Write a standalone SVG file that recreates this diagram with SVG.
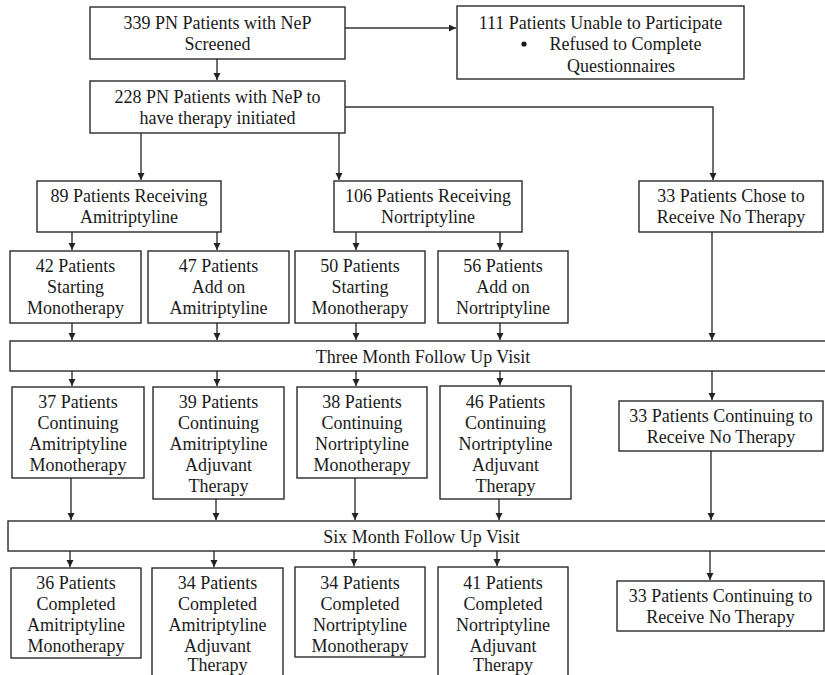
<svg xmlns="http://www.w3.org/2000/svg" width="825" height="675" viewBox="0 0 825 675">
<defs>
<style>
.b{fill:#fff;stroke:#2a2a2a;stroke-width:1.4}
.t{font-family:'Liberation Serif','Times New Roman','DejaVu Serif',serif;font-size:18px;fill:#1a1a1a;text-anchor:middle}
.c{fill:none;stroke:#333;stroke-width:1.4}
</style>
<marker id="ah" markerUnits="userSpaceOnUse" markerWidth="8" markerHeight="8" refX="7" refY="3.5" orient="auto">
<path d="M0,0 L7,3.5 L0,7 z" fill="#222"/>
</marker>
</defs>
<rect width="825" height="675" fill="#fff"/>

<g id="connectors">
<path class="c" d="M345,28 H456" marker-end="url(#ah)"/>
<path class="c" d="M217,59 V80" marker-end="url(#ah)"/>
<path class="c" d="M345,107 H713 V180" marker-end="url(#ah)"/>
<path class="c" d="M141,133 V180" marker-end="url(#ah)"/>
<path class="c" d="M339,133 V180" marker-end="url(#ah)"/>
<path class="c" d="M72,232 V250" marker-end="url(#ah)"/>
<path class="c" d="M217,232 V250" marker-end="url(#ah)"/>
<path class="c" d="M356,232 V250" marker-end="url(#ah)"/>
<path class="c" d="M500,232 V250" marker-end="url(#ah)"/>
<path class="c" d="M72,323 V340" marker-end="url(#ah)"/>
<path class="c" d="M217,323 V340" marker-end="url(#ah)"/>
<path class="c" d="M356,323 V340" marker-end="url(#ah)"/>
<path class="c" d="M500,323 V340" marker-end="url(#ah)"/>
<path class="c" d="M712,232 V340" marker-end="url(#ah)"/>
<path class="c" d="M72,371 V386" marker-end="url(#ah)"/>
<path class="c" d="M217,371 V386" marker-end="url(#ah)"/>
<path class="c" d="M356,371 V386" marker-end="url(#ah)"/>
<path class="c" d="M500,371 V385" marker-end="url(#ah)"/>
<path class="c" d="M712,371 V400" marker-end="url(#ah)"/>
<path class="c" d="M71,478 V520" marker-end="url(#ah)"/>
<path class="c" d="M216,499 V520" marker-end="url(#ah)"/>
<path class="c" d="M355,478 V520" marker-end="url(#ah)"/>
<path class="c" d="M499,499 V520" marker-end="url(#ah)"/>
<path class="c" d="M711,451 V520" marker-end="url(#ah)"/>
<path class="c" d="M70,551 V567" marker-end="url(#ah)"/>
<path class="c" d="M214,551 V567" marker-end="url(#ah)"/>
<path class="c" d="M354,551 V566" marker-end="url(#ah)"/>
<path class="c" d="M497,551 V566" marker-end="url(#ah)"/>
<path class="c" d="M710,551 V580" marker-end="url(#ah)"/>
</g>

<g id="screened">
<rect class="b" x="90" y="7" width="255" height="52"/>
<text class="t" x="217.5" y="28.5">339 PN Patients with NeP</text>
<text class="t" x="217.5" y="49.5">Screened</text>
</g>

<g id="unable">
<rect class="b" x="457" y="6" width="287" height="73"/>
<text class="t" x="600.5" y="28.5">111 Patients Unable to Participate</text>
<circle cx="524" cy="44" r="2.6" fill="#1a1a1a"/>
<text class="t" x="625.5" y="50">Refused to Complete</text>
<text class="t" x="621" y="71.5">Questionnaires</text>
</g>

<g id="initiated">
<rect class="b" x="90" y="81" width="255" height="52"/>
<text class="t" x="217.5" y="102.5">228 PN Patients with NeP to</text>
<text class="t" x="217.5" y="123.5">have therapy initiated</text>
</g>

<g id="amitriptyline">
<rect class="b" x="37" y="181" width="184" height="51"/>
<text class="t" x="129" y="202">89 Patients Receiving</text>
<text class="t" x="129" y="223">Amitriptyline</text>
</g>

<g id="nortriptyline">
<rect class="b" x="334" y="181" width="188" height="51"/>
<text class="t" x="428" y="202">106 Patients Receiving</text>
<text class="t" x="428" y="223">Nortriptyline</text>
</g>

<g id="notherapy">
<rect class="b" x="639" y="181" width="184" height="51"/>
<text class="t" x="731" y="202">33 Patients Chose to</text>
<text class="t" x="731" y="223">Receive No Therapy</text>
</g>

<g id="ami-mono-start">
<rect class="b" x="10" y="251" width="131" height="72"/>
<text class="t" x="75.5" y="272">42 Patients</text>
<text class="t" x="75.5" y="293">Starting</text>
<text class="t" x="75.5" y="314">Monotherapy</text>
</g>

<g id="ami-addon">
<rect class="b" x="148" y="251" width="141" height="72"/>
<text class="t" x="218.5" y="272">47 Patients</text>
<text class="t" x="218.5" y="293">Add on</text>
<text class="t" x="218.5" y="314">Amitriptyline</text>
</g>

<g id="nor-mono-start">
<rect class="b" x="295" y="251" width="130" height="72"/>
<text class="t" x="360" y="272">50 Patients</text>
<text class="t" x="360" y="293">Starting</text>
<text class="t" x="360" y="314">Monotherapy</text>
</g>

<g id="nor-addon">
<rect class="b" x="438" y="251" width="130" height="72"/>
<text class="t" x="503" y="272">56 Patients</text>
<text class="t" x="503" y="293">Add on</text>
<text class="t" x="503" y="314">Nortriptyline</text>
</g>

<g id="three-month">
<rect class="b" x="10" y="341" width="825" height="30"/>
<text class="t" x="423" y="363">Three Month Follow Up Visit</text>
</g>

<g id="ami-mono-cont">
<rect class="b" x="12" y="387" width="132" height="91"/>
<text class="t" x="78" y="408">37 Patients</text>
<text class="t" x="78" y="429">Continuing</text>
<text class="t" x="78" y="450">Amitriptyline</text>
<text class="t" x="78" y="471">Monotherapy</text>
</g>

<g id="ami-adj-cont">
<rect class="b" x="153" y="387" width="131" height="112"/>
<text class="t" x="218.5" y="408">39 Patients</text>
<text class="t" x="218.5" y="429">Continuing</text>
<text class="t" x="218.5" y="450">Amitriptyline</text>
<text class="t" x="218.5" y="471">Adjuvant</text>
<text class="t" x="218.5" y="492">Therapy</text>
</g>

<g id="nor-mono-cont">
<rect class="b" x="297" y="387" width="130" height="91"/>
<text class="t" x="362" y="408">38 Patients</text>
<text class="t" x="362" y="429">Continuing</text>
<text class="t" x="362" y="450">Nortriptyline</text>
<text class="t" x="362" y="471">Monotherapy</text>
</g>

<g id="nor-adj-cont">
<rect class="b" x="440" y="386" width="131" height="113"/>
<text class="t" x="505.5" y="408">46 Patients</text>
<text class="t" x="505.5" y="429">Continuing</text>
<text class="t" x="505.5" y="450">Nortriptyline</text>
<text class="t" x="505.5" y="471">Adjuvant</text>
<text class="t" x="505.5" y="492">Therapy</text>
</g>

<g id="notherapy-cont">
<rect class="b" x="619" y="401" width="204" height="50"/>
<text class="t" x="721" y="422">33 Patients Continuing to</text>
<text class="t" x="721" y="443">Receive No Therapy</text>
</g>

<g id="six-month">
<rect class="b" x="8" y="521" width="827" height="30"/>
<text class="t" x="421.5" y="543">Six Month Follow Up Visit</text>
</g>

<g id="ami-mono-done">
<rect class="b" x="11" y="568" width="130" height="90"/>
<text class="t" x="76" y="589">36 Patients</text>
<text class="t" x="76" y="610">Completed</text>
<text class="t" x="76" y="631">Amitriptyline</text>
<text class="t" x="76" y="652">Monotherapy</text>
</g>

<g id="ami-adj-done">
<rect class="b" x="152" y="568" width="131" height="115"/>
<text class="t" x="217.5" y="589">34 Patients</text>
<text class="t" x="217.5" y="610">Completed</text>
<text class="t" x="217.5" y="631">Amitriptyline</text>
<text class="t" x="217.5" y="652">Adjuvant</text>
<text class="t" x="217.5" y="671">Therapy</text>
</g>

<g id="nor-mono-done">
<rect class="b" x="295" y="567" width="130" height="90"/>
<text class="t" x="360" y="589">34 Patients</text>
<text class="t" x="360" y="610">Completed</text>
<text class="t" x="360" y="631">Nortriptyline</text>
<text class="t" x="360" y="652">Monotherapy</text>
</g>

<g id="nor-adj-done">
<rect class="b" x="438" y="567" width="130" height="116"/>
<text class="t" x="503" y="589">41 Patients</text>
<text class="t" x="503" y="610">Completed</text>
<text class="t" x="503" y="631">Nortriptyline</text>
<text class="t" x="503" y="652">Adjuvant</text>
<text class="t" x="503" y="671">Therapy</text>
</g>

<g id="notherapy-done">
<rect class="b" x="617" y="581" width="207" height="50"/>
<text class="t" x="720.5" y="602">33 Patients Continuing to</text>
<text class="t" x="720.5" y="623">Receive No Therapy</text>
</g>
</svg>
